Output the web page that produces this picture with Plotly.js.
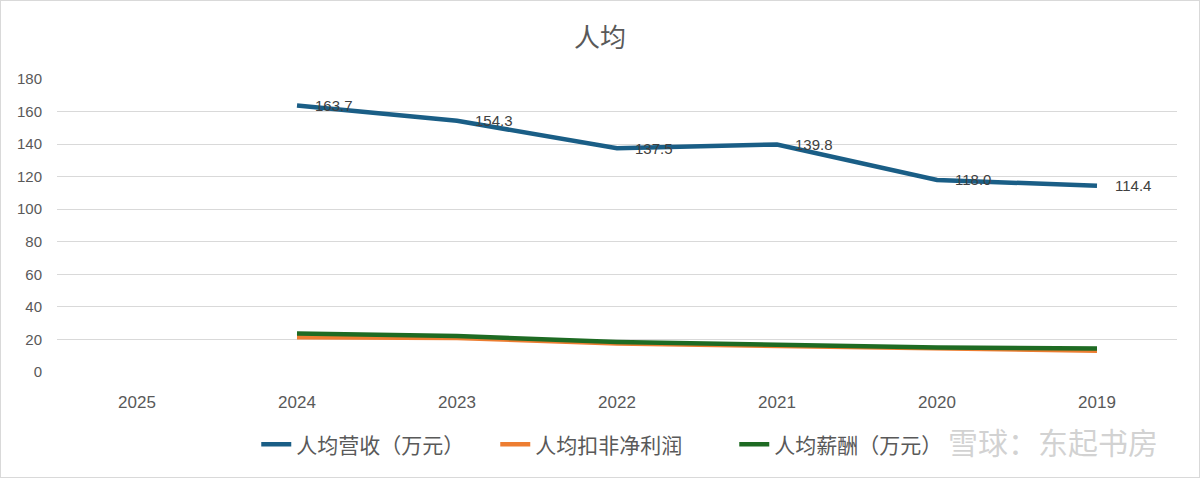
<!DOCTYPE html>
<html>
<head>
<meta charset="utf-8">
<script src="https://cdn.plot.ly/plotly-3.0.1.min.js"></script>
<style>
html,body{margin:0;padding:0;background:#fff;}
#wrap{width:1200px;height:478px;box-sizing:border-box;border:1px solid #d9d9d9;}
#chart{width:1198px;height:476px;}
</style>
</head>
<body>
<div id="wrap"><div id="chart"></div></div>
<script>
const years = ["2025","2024","2023","2022","2021","2020","2019"];
const revenuePerCapita = [null,163.7,154.3,137.5,139.8,118.0,114.4];
const netProfitPerCapita = [null,21.3,20.9,17.5,16.0,14.6,13.1];
const salaryPerCapita = [null,23.6,22.1,18.4,16.8,15.0,14.4];
const yTicks = [0,20,40,60,80,100,120,140,160,180];

const fontFam = '"Liberation Sans","Noto Sans CJK SC",Arial,sans-serif';

const traces = [
  {x: years, y: revenuePerCapita, name: "人均营收（万元）", type: "scatter", mode: "lines",
   line: {color: "#1a5e86", width: 4.5}},
  {x: years, y: netProfitPerCapita, name: "人均扣非净利润", type: "scatter", mode: "lines",
   line: {color: "#ed7d31", width: 4.5}},
  {x: years, y: salaryPerCapita, name: "人均薪酬（万元）", type: "scatter", mode: "lines",
   line: {color: "#1e6b23", width: 4.5}}
];

const labelAnns = [];
years.forEach((yr, i) => {
  const v = revenuePerCapita[i];
  if (v === null) return;
  labelAnns.push({x: i, y: v, xref: "x", yref: "y", text: v.toFixed(1), showarrow: false,
    xanchor: "left", yanchor: "middle", xshift: 16,
    font: {size: 15, color: "#404040", family: fontFam}});
});

const layout = {
  width: 1198, height: 476,
  margin: {l: 56, r: 22, t: 78, b: 105},
  paper_bgcolor: "#fff", plot_bgcolor: "#fff",
  font: {family: fontFam, color: "#595959"},
  title: {text: "人均", x: 0.5, xanchor: "center", y: 0.922, yanchor: "middle",
          font: {size: 26, color: "#595959", family: fontFam}},
  xaxis: {type: "category", categoryorder: "array", categoryarray: years,
          range: [-0.5, 6.5], showgrid: false, zeroline: false, showline: false,
          ticks: "", ticklabelstandoff: 18, tickfont: {size: 17, color: "#595959"}},
  yaxis: {range: [0, 180], tickvals: yTicks, showgrid: true, gridcolor: "#d9d9d9", gridwidth: 1,
          zeroline: false, showline: false, ticks: "", ticklabelstandoff: 14,
          tickfont: {size: 15, color: "#595959"}},
  showlegend: true,
  legend: {orientation: "h", x: 0.498, xanchor: "center", y: -0.248, yanchor: "middle",
           font: {size: 21, color: "#595959"}, itemwidth: 30, tracegroupgap: 0,
           entrywidth: 194, entrywidthmode: "pixels"},
  annotations: labelAnns.concat([
    {text: "雪球：东起书房", xref: "paper", yref: "paper", x: 0.985, y: -0.245,
     xanchor: "right", yanchor: "middle", showarrow: false,
     font: {size: 30, color: "rgba(190,190,190,0.7)", family: fontFam}}
  ])
};

Plotly.newPlot("chart", traces, layout, {displayModeBar: false, staticPlot: true});
</script>
</body>
</html>
